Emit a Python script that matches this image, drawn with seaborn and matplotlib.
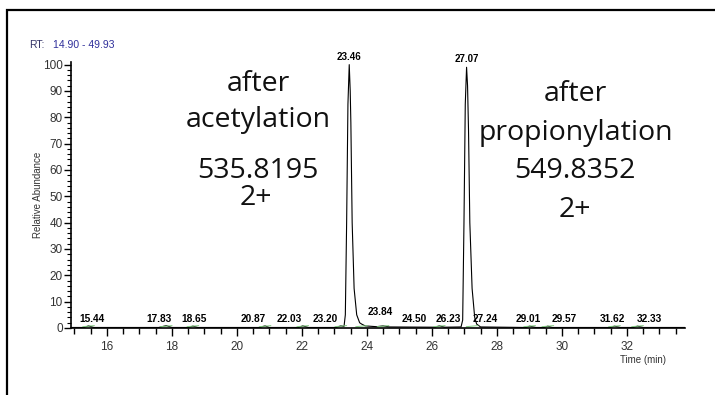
import numpy as np
import pandas as pd
import matplotlib
matplotlib.use("Agg")
import matplotlib.pyplot as plt
from matplotlib.ticker import MultipleLocator
from matplotlib.patches import Rectangle
import seaborn as sns

# ---- data ----
rt = [14.90, 15.30, 15.44, 15.60, 17.60, 17.83, 18.00, 18.50, 18.65, 18.80,
      20.70, 20.87, 21.00, 21.90, 22.03, 22.20, 23.05, 23.20, 23.30,
      23.34, 23.38, 23.42, 23.46, 23.49, 23.51, 23.55, 23.61, 23.69, 23.78,
      23.84, 23.95, 24.30, 24.50, 24.70, 26.10, 26.23, 26.40,
      26.90, 26.95, 26.99, 27.03, 27.07, 27.10, 27.13, 27.17, 27.24, 27.32,
      27.38, 27.50, 28.90, 29.01, 29.20, 29.45, 29.57, 29.70, 31.50, 31.62,
      31.80, 32.20, 32.33, 32.50, 33.79]
abundance = [0.2, 0.2, 0.8, 0.2, 0.2, 0.9, 0.2, 0.2, 0.7, 0.2,
             0.2, 0.8, 0.2, 0.2, 0.8, 0.2, 0.2, 0.8, 0.6,
             5, 40, 85, 100, 90, 78, 40, 15, 5, 2,
             1.5, 0.8, 0.5, 0.8, 0.4, 0.3, 0.8, 0.3,
             0.4, 3, 40, 85, 99, 92, 75, 40, 15, 4,
             1.5, 0.4, 0.2, 0.7, 0.2, 0.2, 0.7, 0.2, 0.2, 0.7,
             0.2, 0.2, 0.7, 0.2, 0.2]

main_peak_rt = [23.46, 27.07]
main_peak_abund = [100, 99]
main_peak_labels = ["23.46", "27.07"]

small_peak_rt = [15.44, 17.83, 18.65, 20.87, 22.03, 23.20, 23.84, 24.50,
                 26.23, 27.24, 29.01, 29.57, 31.62, 32.33]
small_peak_abund = [0.8, 0.9, 0.7, 0.8, 0.8, 0.8, 1.5, 0.8,
                    0.8, 1.2, 0.7, 0.7, 0.7, 0.7]
small_peak_labels = ["15.44", "17.83", "18.65", "20.87", "22.03", "23.20", "23.84",
                     "24.50", "26.23", "27.24", "29.01", "29.57", "31.62", "32.33"]

# layout: label x-positions (the software shifts labels to avoid overlaps)
small_label_x = [15.54, 17.60, 18.68, 20.52, 21.60, 22.72, 24.41, 25.45,
                 26.52, 27.63, 28.98, 30.09, 31.57, 32.70]
small_label_y = [1.6, 1.6, 1.6, 1.6, 1.6, 1.6, 4.3, 1.6,
                 1.6, 1.6, 1.6, 1.6, 1.6, 1.6]

df = pd.DataFrame({"Time (min)": rt, "Relative Abundance": abundance})

sns.set_theme(style="white")
plt.rcParams["font.family"] = ["Liberation Sans", "DejaVu Sans"]

fig = plt.figure(figsize=(7.15, 3.95), dpi=100)
ax = fig.add_axes([71 / 715, 1 - 328 / 395, (685 - 71) / 715, (328 - 62) / 395])

sns.lineplot(data=df, x="Time (min)", y="Relative Abundance", ax=ax,
             color="black", linewidth=0.8, estimator=None, sort=False)

# green integration baselines near small peaks
for t, a in zip(small_peak_rt, small_peak_abund):
    ax.plot([t - 0.18, t + 0.18], [0.5, 0.9], color="#7fc97f", linewidth=0.7)

ax.set_xlim(14.9, 33.79)
ax.set_ylim(0, 101)

ax.xaxis.set_major_locator(MultipleLocator(2))
ax.xaxis.set_minor_locator(MultipleLocator(0.5))
ax.yaxis.set_major_locator(MultipleLocator(10))
ax.yaxis.set_minor_locator(MultipleLocator(2))

ax.tick_params(axis="x", which="major", direction="out", length=6, width=1,
               color="black", labelsize=8.5, labelcolor="#333333", pad=3, bottom=True)
ax.tick_params(axis="x", which="minor", direction="out", length=4, width=1,
               color="black", bottom=True)
ax.tick_params(axis="y", which="major", direction="out", length=5, width=1,
               color="black", labelsize=8.5, labelcolor="#333333", pad=1, left=True)
ax.tick_params(axis="y", which="minor", direction="out", length=3, width=0.8,
               color="black", left=True)

for s in ["top", "right"]:
    ax.spines[s].set_visible(False)
for s in ["left", "bottom"]:
    ax.spines[s].set_color("black")
    ax.spines[s].set_linewidth(1.2)

ax.set_xlabel("")
ax.set_ylabel("Relative Abundance", fontsize=7, color="#333333")
ax.yaxis.set_label_coords(-(71 - 43) / 614, 0.5)
fig.text(643 / 715, 1 - 360 / 395, "Time (min)", fontsize=7, color="#333333",
         ha="center", va="center")

# peak labels
for t, a, lab in zip(main_peak_rt, main_peak_abund, main_peak_labels):
    ax.annotate(lab, (t, a), xytext=(0, 2), textcoords="offset points",
                ha="center", va="bottom", fontsize=7, fontweight="bold",
                color="black", annotation_clip=False)
for lx, ly, lab in zip(small_label_x, small_label_y, small_peak_labels):
    ax.text(lx, ly, lab, ha="center", va="bottom", fontsize=7.3,
            fontweight="bold", color="black")

# big annotation texts
big = dict(fontsize=20.5, color="#111111", ha="center", va="center",
           family=["Open Sans", "DejaVu Sans"])
fig.text(258 / 715, 1 - 84 / 395, "after", **big)
fig.text(258 / 715, 1 - 120 / 395, "acetylation", **big)
fig.text(258 / 715, 1 - 171 / 395, "535.8195", **big)
fig.text(256 / 715, 1 - 198 / 395, "2+", **big)
fig.text(575 / 715, 1 - 94 / 395, "after", **big)
fig.text(576 / 715, 1 - 133 / 395, "propionylation", **big)
fig.text(575 / 715, 1 - 171 / 395, "549.8352", **big)
fig.text(575 / 715, 1 - 210 / 395, "2+", **big)

# RT header
fig.text(29 / 715, 1 - 45 / 395, "RT:", fontsize=7.5, color="#333366",
         ha="left", va="center")
fig.text(53 / 715, 1 - 45 / 395, "14.90 - 49.93", fontsize=7.5, color="#2e2e9a",
         ha="left", va="center")

# outer frame
fig.patches.append(Rectangle((7 / 715, -0.05), 1.2, 1 - 10 / 395 + 0.05,
                             transform=fig.transFigure, fill=False,
                             edgecolor="black", linewidth=1.6))

fig.savefig("out.png", dpi=100)
